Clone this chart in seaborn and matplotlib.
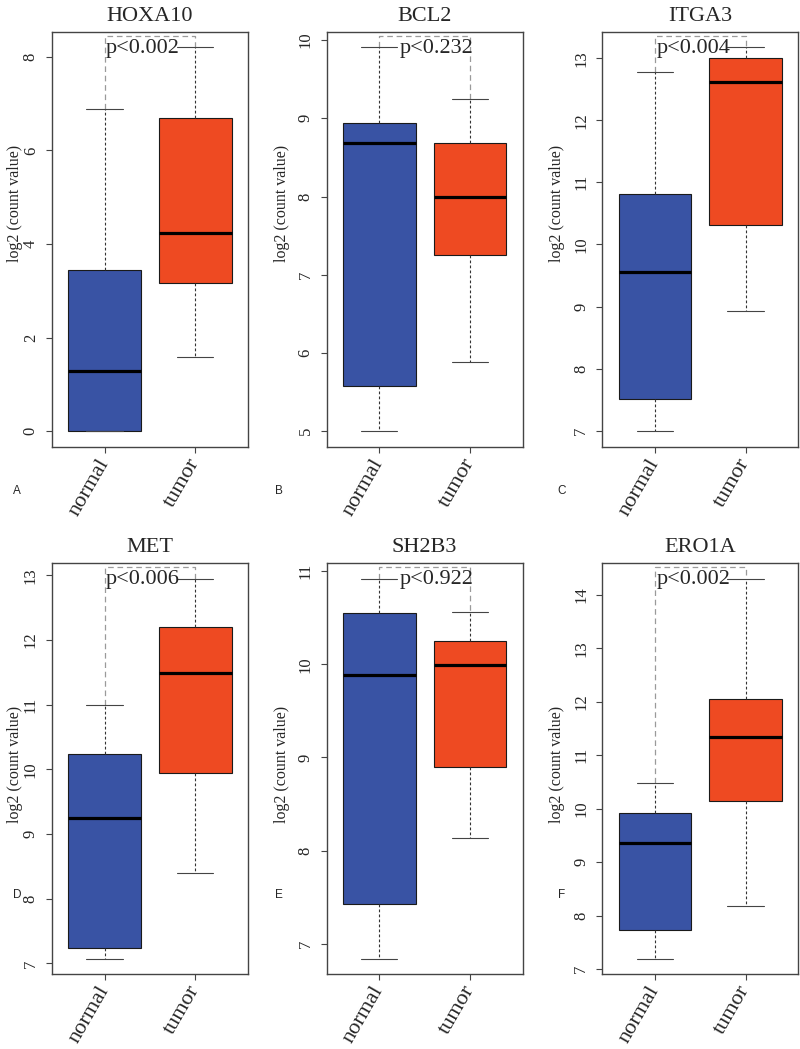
import numpy as np
import pandas as pd
import matplotlib
matplotlib.use('Agg')
import matplotlib.pyplot as plt
import seaborn as sns
from matplotlib.ticker import MultipleLocator

genes = ['HOXA10', 'BCL2', 'ITGA3', 'MET', 'SH2B3', 'ERO1A']
panel_letters = ['A', 'B', 'C', 'D', 'E', 'F']
p_labels = ['p<0.002', 'p<0.232', 'p<0.004', 'p<0.006', 'p<0.922', 'p<0.002']
groups = ['normal', 'tumor']

# five numbers per box:
# lower whisker, Q1, median, Q3, upper whisker
hoxa10_normal = [0.00, 0.00, 1.29, 3.45, 6.89]
hoxa10_tumor = [1.58, 3.17, 4.24, 6.70, 8.21]
bcl2_normal = [5.00, 5.58, 8.69, 8.94, 9.91]
bcl2_tumor = [5.88, 7.25, 8.00, 8.69, 9.25]
itga3_normal = [6.99, 7.51, 9.56, 10.82, 12.78]
itga3_tumor = [8.93, 10.31, 12.62, 13.00, 13.18]
met_normal = [7.07, 7.23, 9.24, 10.23, 10.99]
met_tumor = [8.39, 9.95, 11.49, 12.20, 12.95]
sh2b3_normal = [6.84, 7.43, 9.88, 10.55, 10.92]
sh2b3_tumor = [8.14, 8.90, 9.99, 10.25, 10.56]
ero1a_normal = [7.19, 7.72, 9.35, 9.92, 10.48]
ero1a_tumor = [8.17, 10.15, 11.35, 12.06, 14.31]

normal_vals = [hoxa10_normal, bcl2_normal, itga3_normal, met_normal, sh2b3_normal, ero1a_normal]
tumor_vals = [hoxa10_tumor, bcl2_tumor, itga3_tumor, met_tumor, sh2b3_tumor, ero1a_tumor]
ytick_steps = [2, 1, 1, 1, 1, 1]

blue = '#3953a4'
red = '#ee4a22'

sns.set_style('ticks')
plt.rcParams['font.family'] = ['Liberation Serif', 'DejaVu Serif']

fig = plt.figure(figsize=(8, 10.49), dpi=100)

# axes layout (figure fractions)
col_left = [0.065, 0.4084, 0.7529]
row_bottom = [0.5742, 0.0715]
row_height = [0.3956, 0.3915]
ax_width = 0.2448
ylab_x = [-0.148, -0.189, -0.189]
ylab_y = [0.585, 0.51]
p_x = [0.015, 0.225, 0.015, 0.015, 0.225, 0.015]
letter_x = [0.021, 0.349, 0.7025]
letter_y = [0.532, 0.147]

for i, gene in enumerate(genes):
    r, c = divmod(i, 3)
    ax = fig.add_axes([col_left[c], row_bottom[r], ax_width, row_height[r]])

    normal = normal_vals[i]
    tumor = tumor_vals[i]
    df = pd.DataFrame({
        'group': ['normal'] * len(normal) + ['tumor'] * len(tumor),
        'value': normal + tumor,
    })

    sns.boxplot(data=df, x='group', y='value', hue='group', order=groups,
                hue_order=groups, palette=[blue, red], saturation=1,
                width=0.8, whis=(0, 100), showfliers=False,
                linecolor='#1a1a1a', linewidth=0.8, capwidths=0.4,
                medianprops=dict(color='black', linewidth=2.3),
                whiskerprops=dict(color='#333333', linestyle=(0, (2.5, 2))),
                capprops=dict(color='#444444'),
                legend=False, ax=ax)

    top = max(normal[-1], tumor[-1])
    bottom = min(normal[0], tumor[0])
    span = top - bottom
    y_br = top + 0.03 * span
    ax.plot([0, 0, 1, 1], [normal[-1], y_br, y_br, tumor[-1]],
            color='#9a9a9a', lw=0.9, ls=(0, (4.5, 3)), zorder=1)
    ax.text(p_x[i], 0.949, p_labels[i], transform=ax.get_xaxis_transform(),
            fontsize=16, ha='left', va='baseline')

    ax.set_xlim(-0.58, 1.58)
    ax.set_ylim(bottom - 0.04 * span, top + 0.04 * span)
    ax.yaxis.set_major_locator(MultipleLocator(ytick_steps[i]))

    ax.set_title(gene, fontsize=16, pad=8)
    ax.set_xlabel('')
    ax.set_ylabel('log2 (count value)', fontsize=11.5)
    ax.yaxis.set_label_coords(ylab_x[c], ylab_y[r])

    ax.tick_params(axis='both', direction='out', length=4.5, width=0.8,
                   color='#444444', pad=5)
    ax.tick_params(axis='y', labelsize=12)
    ax.set_xticks([0, 1])
    ax.set_xticklabels(groups, rotation=60, ha='right', va='center',
                       rotation_mode='anchor', fontsize=16)
    plt.setp(ax.get_yticklabels(), rotation=90, va='center')

    for sp in ax.spines.values():
        sp.set_color('#444444')
        sp.set_linewidth(1)

    fig.text(letter_x[c], letter_y[r], panel_letters[i], fontsize=8.5,
             family='Liberation Sans', ha='center', va='center')

fig.savefig('out.png', dpi=100)
